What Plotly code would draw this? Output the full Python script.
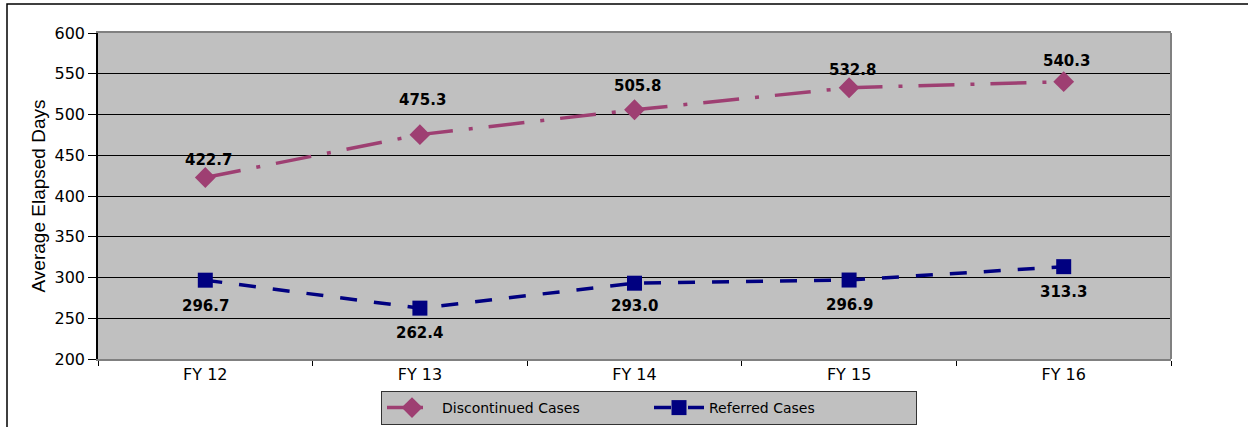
import plotly.graph_objects as go

categories = ["FY 12", "FY 13", "FY 14", "FY 15", "FY 16"]
discontinued = [422.7, 475.3, 505.8, 532.8, 540.3]
referred = [296.7, 262.4, 293.0, 296.9, 313.3]
y_ticks = [200, 250, 300, 350, 400, 450, 500, 550, 600]

# vertical offsets (px) of the value labels
disc_label_shift = [18, 35, 24, 18, 21]
ref_label_shift = [-26, -25, -23, -25, -25]

DISC_COLOR = "#9E3F72"
REF_COLOR = "#000080"
FONT = "DejaVu Sans, Liberation Sans, Arial, sans-serif"

fig = go.Figure()
fig.add_trace(go.Scatter(
    x=categories, y=discontinued, name="Discontinued Cases",
    mode="lines+markers",
    line=dict(color=DISC_COLOR, width=3.5, dash="36px,16px,4px,16px"),
    marker=dict(symbol="diamond", size=16, color=DISC_COLOR),
))
fig.add_trace(go.Scatter(
    x=categories, y=referred, name="Referred Cases",
    mode="lines+markers",
    line=dict(color=REF_COLOR, width=3.5, dash="17px,17px"),
    marker=dict(symbol="square", size=15, color=REF_COLOR),
))

for cat, val, dy in zip(categories, discontinued, disc_label_shift):
    fig.add_annotation(x=cat, y=val, text=f"<b>{val:.1f}</b>", showarrow=False,
                       yshift=dy, xshift=3, font=dict(size=15, color="black", family=FONT))
for cat, val, dy in zip(categories, referred, ref_label_shift):
    fig.add_annotation(x=cat, y=val, text=f"<b>{val:.1f}</b>", showarrow=False,
                       yshift=dy, font=dict(size=15, color="black", family=FONT))

W, H = 1248, 427
L, R, T, B = 98, 77, 33, 68
pw, ph = W - L - R, H - T - B

def px_x(x):
    return (x - L) / pw

def px_y(y):
    return 1 - (y - T) / ph

# outer frame (left and top edges visible)
fig.add_shape(type="rect", xref="paper", yref="paper", layer="above",
              x0=px_x(7), x1=px_x(W + 10), y0=px_y(H + 10), y1=px_y(4),
              line=dict(color="black", width=1.5), fillcolor="rgba(0,0,0,0)")
# right edge of plot area
fig.add_shape(type="line", xref="paper", yref="paper",
              x0=1, x1=1, y0=0, y1=1, line=dict(color="#808080", width=2))

fig.update_layout(
    width=W, height=H,
    margin=dict(l=L, r=R, t=T, b=B, autoexpand=False),
    paper_bgcolor="white", plot_bgcolor="#C0C0C0",
    font=dict(family=FONT, size=16, color="black"),
    showlegend=True,
    legend=dict(
        orientation="h", xref="container", yref="container",
        x=381 / W, xanchor="left", y=1 - 391 / H, yanchor="top",
        bgcolor="#C0C0C0", bordercolor="#333333", borderwidth=1,
        font=dict(size=14, family=FONT), entrywidth=202, itemwidth=50,
        tracegroupgap=0,
    ),
    xaxis=dict(
        type="category", range=[-0.5, 4.5], showgrid=False,
        ticks="outside", ticklen=5, tickcolor="black", tickson="boundaries",
        showline=True, linecolor="#808080", linewidth=2, mirror=True,
        tickfont=dict(size=16), fixedrange=True,
    ),
    yaxis=dict(
        range=[200, 600], tickvals=y_ticks, showgrid=True, gridcolor="black", gridwidth=1,
        ticks="outside", ticklen=8, tickcolor="black",
        showline=True, linecolor="black", linewidth=1.5,
        tickfont=dict(size=16), zeroline=False,
        title=dict(text="Average Elapsed Days", standoff=4,
                   font=dict(size=19, family="Liberation Sans Narrow, Liberation Sans, Arial")),
    ),
)

fig.write_html("out.html")
